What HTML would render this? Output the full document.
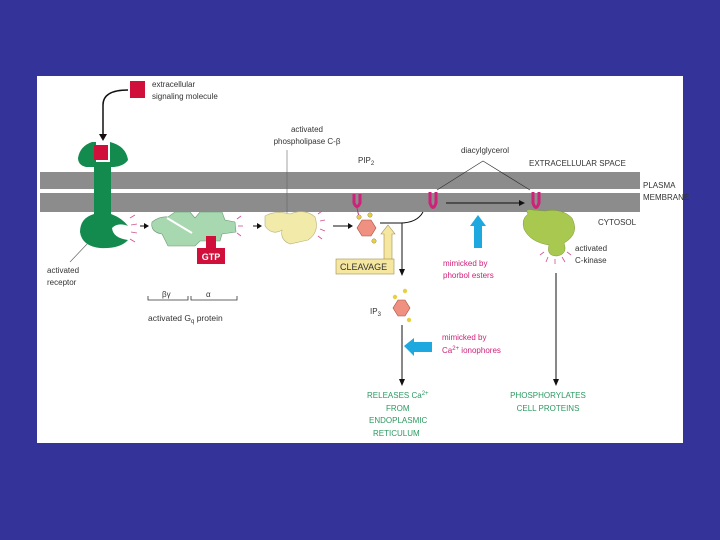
<!DOCTYPE html>
<html><head><style>
html,body{margin:0;padding:0;background:#333399;width:720px;height:540px;overflow:hidden}
svg{display:block}
text{font-family:"Liberation Sans",sans-serif;}
</style></head><body>
<svg width="720" height="540" viewBox="0 0 720 540">
<rect x="0" y="0" width="720" height="540" fill="#333399"/>
<rect x="37" y="76" width="646" height="367" fill="#fff"/>
<rect x="40" y="172" width="600" height="17" fill="#8c8c8c"/>
<rect x="40" y="193" width="600" height="19" fill="#8c8c8c"/>
<text x="643" y="188" font-size="8" fill="#333">PLASMA</text>
<text x="643" y="200" font-size="8" fill="#333">MEMBRANE</text>
<text x="529" y="166" font-size="8" fill="#333">EXTRACELLULAR SPACE</text>
<text x="598" y="225" font-size="8" fill="#333">CYTOSOL</text>
<rect x="130" y="81" width="15" height="17" fill="#d0103a"/>
<text x="152" y="87" font-size="8" fill="#333">extracellular</text>
<text x="152" y="99" font-size="8" fill="#333">signaling molecule</text>
<path d="M128,90 Q103,90 103,105 L103,135" fill="none" stroke="#111" stroke-width="1.5"/>
<polygon points="99,134 107,134 103,141" fill="#111"/>
<path d="M78,158 Q80,146 92,142 L96,142 L96,162 L110,162 L110,142 Q126,146 128,160 Q124,166 114,167 L111,167 L111,214 Q122,218 128,226 Q118,222 112,228 Q113,238 128,240 Q120,249 100,248 Q82,246 80,232 Q80,218 94,214 L94,167 L86,167 Q78,165 78,158 Z" fill="#138a4e"/>
<rect x="94" y="145" width="14" height="15" fill="#d0103a"/>
<line x1="88" y1="243" x2="70" y2="262" stroke="#666" stroke-width="0.7"/>
<text x="47" y="273" font-size="8" fill="#333">activated</text>
<text x="47" y="285" font-size="8" fill="#333">receptor</text>
<g stroke="#d05090" stroke-width="0.8"><line x1="130" y1="218" x2="135" y2="215"/><line x1="131" y1="225" x2="137" y2="224"/><line x1="131" y1="232" x2="137" y2="233"/><line x1="130" y1="239" x2="135" y2="242"/></g>
<line x1="140" y1="226" x2="145" y2="226" stroke="#111"/><polygon points="144,223 149,226 144,229" fill="#111"/>
<path d="M152,222 Q160,216 168,217 L175,212 L190,212 L195,218 L200,212 L222,212 L225,220 L235,222 L236,232 L222,234 L220,241 L200,241 L195,246 L168,246 L162,234 Q150,232 152,222 Z" fill="#a8d8b0" stroke="#6a9a74" stroke-width="0.6"/>
<line x1="167" y1="218" x2="192" y2="233" stroke="#fff" stroke-width="2"/>
<rect x="206" y="236" width="10" height="12" fill="#d0103a"/>
<rect x="197" y="248" width="28" height="16" fill="#d0103a"/>
<text x="211" y="260" font-size="9" font-weight="bold" fill="#fff" text-anchor="middle">GTP</text>
<g stroke="#d05090" stroke-width="0.8"><line x1="237" y1="219" x2="241" y2="216"/><line x1="238" y1="226" x2="243" y2="226"/><line x1="237" y1="233" x2="241" y2="236"/></g>
<line x1="253" y1="226" x2="258" y2="226" stroke="#111"/><polygon points="257,223 262,226 257,229" fill="#111"/>
<path d="M148,296 L148,300 L188,300 L188,296 M191,296 L191,300 L237,300 L237,296" fill="none" stroke="#333" stroke-width="0.8"/>
<text x="162" y="297" font-size="8" fill="#333">βγ</text>
<text x="206" y="297" font-size="8" fill="#333">α</text>
<text x="148" y="321" font-size="8.5" fill="#333">activated G<tspan font-size="6" dy="2">q</tspan><tspan dy="-2"> protein</tspan></text>
<path d="M265,216 Q275,210 290,214 Q305,208 315,217 Q320,232 308,240 L290,244 Q280,240 282,230 Q272,236 265,226 Z" fill="#f2eaa8" stroke="#b8b078" stroke-width="0.6"/>
<text x="307" y="132" font-size="8" fill="#333" text-anchor="middle">activated</text>
<text x="307" y="144" font-size="8" fill="#333" text-anchor="middle">phospholipase C-β</text>
<line x1="287" y1="150" x2="287" y2="213" stroke="#666" stroke-width="0.6"/>
<g stroke="#d05090" stroke-width="0.8"><line x1="318" y1="214" x2="322" y2="211"/><line x1="320" y1="221" x2="325" y2="220"/><line x1="320" y1="229" x2="325" y2="231"/><line x1="318" y1="236" x2="322" y2="239"/></g>
<line x1="333" y1="226" x2="349" y2="226" stroke="#111"/><polygon points="348,223 353,226 348,229" fill="#111"/>
<text x="358" y="163" font-size="8" fill="#333">PIP<tspan font-size="6" dy="2">2</tspan></text>
<g fill="none" stroke="#d0207a" stroke-width="3">
<path d="M354,194 L354,203 Q357,210 360,203 L360,194"/>
<path d="M430,192 L430,203 Q433,212 436,203 L436,192"/>
<path d="M533,192 L533,203 Q536,212 539,203 L539,192"/>
</g>
<line x1="357" y1="208" x2="359" y2="217" stroke="#d0207a" stroke-width="1"/>
<polygon points="362,220 371,220 376,228 371,236 362,236 357,228" fill="#f09080" stroke="#a05040" stroke-width="0.6"/>
<circle cx="359" cy="217" r="2.2" fill="#e8d040" stroke="#886" stroke-width="0.5"/>
<circle cx="370" cy="215" r="2.2" fill="#e8d040" stroke="#886" stroke-width="0.5"/>
<circle cx="374" cy="241" r="2.2" fill="#e8d040" stroke="#886" stroke-width="0.5"/>
<polygon points="388,225 395,234 392,234 392,262 384,262 384,234 381,234" fill="#f5e6a0" stroke="#a09050" stroke-width="0.6"/>
<rect x="336" y="259" width="58" height="15" fill="#f5e6a0" stroke="#a09050" stroke-width="0.6"/>
<text x="340" y="270" font-size="9" fill="#333">CLEAVAGE</text>
<path d="M380,223 L400,223 Q417,223 423,212" fill="none" stroke="#111" stroke-width="1"/>
<line x1="402" y1="223" x2="402" y2="270" stroke="#111" stroke-width="1"/>
<polygon points="399,269 405,269 402,276" fill="#111"/>
<text x="370" y="314" font-size="8" fill="#333">IP<tspan font-size="6" dy="2">3</tspan></text>
<polygon points="398,300 405,300 410,308 405,316 398,316 393,308" fill="#f09080" stroke="#a05040" stroke-width="0.6"/>
<circle cx="395" cy="297" r="2.2" fill="#e8d040"/><circle cx="405" cy="291" r="2.2" fill="#e8d040"/><circle cx="409" cy="320" r="2.2" fill="#e8d040"/>
<line x1="402" y1="325" x2="402" y2="380" stroke="#111" stroke-width="1"/>
<polygon points="399,379 405,379 402,386" fill="#111"/>
<polygon points="404,346 414,338 414,342 432,342 432,352 414,352 414,356" fill="#1ea8e0"/>
<text x="442" y="340" font-size="8" fill="#d0207a">mimicked by</text>
<text x="442" y="353" font-size="8" fill="#d0207a">Ca<tspan font-size="6" dy="-3">2+</tspan><tspan dy="3"> ionophores</tspan></text>
<text x="367" y="398" font-size="8" fill="#2a9a60">RELEASES Ca<tspan font-size="6" dy="-3">2+</tspan></text>
<text x="386" y="411" font-size="8" fill="#2a9a60">FROM</text>
<text x="369" y="423" font-size="8" fill="#2a9a60">ENDOPLASMIC</text>
<text x="373" y="436" font-size="8" fill="#2a9a60">RETICULUM</text>
<text x="485" y="153" font-size="8" fill="#333" text-anchor="middle">diacylglycerol</text>
<path d="M437,190 L483,161 L530,190" fill="none" stroke="#333" stroke-width="0.7"/>
<line x1="446" y1="203" x2="520" y2="203" stroke="#111" stroke-width="1"/>
<polygon points="519,200 525,203 519,206" fill="#111"/>
<polygon points="478,215 486,226 482,226 482,248 474,248 474,226 470,226" fill="#1ea8e0"/>
<text x="443" y="266" font-size="8" fill="#d0207a">mimicked by</text>
<text x="443" y="278" font-size="8" fill="#d0207a">phorbol esters</text>
<path d="M528,214 Q524,208 533,210 L545,211 Q562,208 572,218 Q580,234 564,243 Q568,254 557,256 Q546,256 549,245 Q530,242 524,229 Q521,219 528,214 Z" fill="#a8c850" stroke="#7a9a38" stroke-width="0.5"/>
<g stroke="#d05090" stroke-width="0.8"><line x1="544" y1="252" x2="540" y2="255"/><line x1="548" y1="257" x2="546" y2="262"/><line x1="555" y1="259" x2="555" y2="264"/><line x1="562" y1="257" x2="565" y2="262"/><line x1="567" y1="252" x2="571" y2="255"/></g>
<text x="575" y="251" font-size="8" fill="#333">activated</text>
<text x="575" y="263" font-size="8" fill="#333">C-kinase</text>
<line x1="556" y1="273" x2="556" y2="380" stroke="#111" stroke-width="1"/>
<polygon points="553,379 559,379 556,386" fill="#111"/>
<text x="548" y="398" font-size="8" fill="#2a9a60" text-anchor="middle">PHOSPHORYLATES</text>
<text x="548" y="411" font-size="8" fill="#2a9a60" text-anchor="middle">CELL PROTEINS</text>
</svg>
</body></html>
